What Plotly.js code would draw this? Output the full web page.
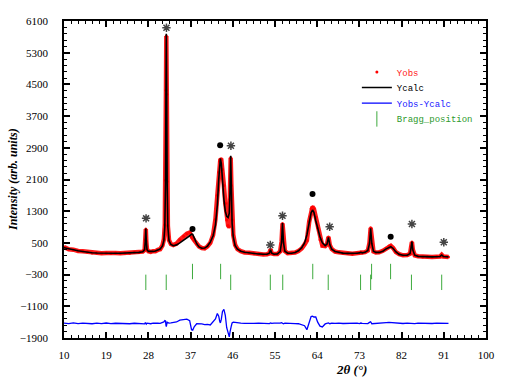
<!DOCTYPE html>
<html><head><meta charset="utf-8">
<script src="https://cdn.plot.ly/plotly-3.0.1.min.js"></script>
<style>html,body{margin:0;padding:0;background:#fff}</style>
</head><body><div id="chart" style="width:509px;height:380px"></div>
<script>
// 2-theta positions of the profile samples
const twoTheta = [10,11,12,13,14,15,16,17,18,19,20,21,22,23,24,25,26,26.8,27.2,27.35,27.45,27.55,27.7,28.0,28.5,29,29.5,30,30.5,31.0,31.3,31.5,31.65,31.75,31.82,31.9,32.0,32.15,32.4,32.8,33.3,34.0,34.7,35.5,36.2,36.8,37.2,37.45,37.8,38.3,38.8,39.4,40.0,40.6,41.2,41.8,42.3,42.7,43.0,43.2,43.35,43.55,43.8,44.1,44.4,44.7,45.0,45.25,45.4,45.55,45.7,45.85,46.1,46.5,47.0,47.7,48.5,49.5,50.5,51.5,52.5,53.3,53.8,54.05,54.3,54.8,55.5,56.1,56.4,56.6,56.8,57.1,57.7,58.5,59.3,60.0,60.7,61.3,61.8,62.3,62.7,63.0,63.3,63.7,64.1,64.6,65.1,65.7,66.1,66.4,66.7,67.1,67.8,68.6,69.5,70.5,71.5,72.5,73.0,73.3,73.6,74.2,74.8,75.15,75.4,75.65,76.0,76.5,77.2,78.0,78.7,79.3,79.7,80.2,80.8,81.5,82.3,83.2,83.8,84.05,84.2,84.4,84.8,85.5,86.5,87.5,88.5,89.5,90.2,90.55,90.9,91.5,92.0];
const yCalc = [380,350,320,300,285,262,252,245,240,238,237,237,239,242,246,252,260,275,330,560,860,560,330,285,280,285,295,315,345,425,560,900,2000,4400,5780,4300,2000,900,560,460,430,450,500,560,620,680,720,715,620,480,400,365,370,420,520,680,950,1450,2100,2500,2630,2500,2050,1600,1300,1170,1140,1250,1800,2700,1900,1000,650,430,340,290,262,245,232,222,214,212,240,330,240,215,222,280,520,1000,520,290,240,240,260,300,380,500,700,1000,1260,1330,1270,1060,850,650,500,430,470,640,450,340,285,258,242,235,232,238,248,262,250,262,310,480,870,480,290,260,260,290,350,395,405,360,270,210,190,190,230,400,530,320,190,160,150,148,148,150,158,195,158,150,148];
const yObs = [395,340,330,295,290,270,248,250,236,245,232,242,236,248,240,258,255,280,320,580,850,545,335,290,275,292,290,322,340,440,590,960,2080,4350,5720,4250,2050,930,570,470,445,480,580,670,730,760,640,620,560,470,410,370,360,410,500,700,1100,1700,2280,2560,2620,2600,2350,1950,1500,1080,940,900,1600,2650,1950,1080,700,450,345,292,258,250,228,226,210,216,235,340,236,220,218,285,530,990,510,295,238,245,255,295,360,460,560,1040,1360,1410,1360,1150,880,580,430,420,470,650,440,345,282,262,238,240,229,242,244,268,246,266,305,500,880,470,285,258,262,300,365,420,425,370,265,214,186,194,226,410,520,325,186,164,146,152,145,154,155,200,154,153,146];
const yDiff = [-1525,-1535,-1520,-1535,-1525,-1530,-1540,-1525,-1535,-1522,-1538,-1528,-1533,-1524,-1540,-1528,-1535,-1530,-1545,-1510,-1535,-1550,-1525,-1528,-1540,-1525,-1535,-1528,-1532,-1518,-1495,-1460,-1470,-1580,-1610,-1560,-1500,-1515,-1525,-1520,-1515,-1495,-1450,-1430,-1425,-1460,-1690,-1700,-1610,-1540,-1535,-1545,-1560,-1555,-1570,-1500,-1420,-1280,-1350,-1470,-1520,-1430,-1230,-1180,-1330,-1640,-1760,-1870,-1750,-1610,-1590,-1520,-1500,-1505,-1520,-1525,-1530,-1522,-1530,-1526,-1532,-1524,-1535,-1518,-1532,-1525,-1533,-1526,-1515,-1535,-1540,-1525,-1532,-1524,-1535,-1540,-1560,-1590,-1690,-1480,-1360,-1350,-1370,-1370,-1500,-1600,-1620,-1545,-1530,-1520,-1540,-1525,-1532,-1524,-1534,-1526,-1532,-1525,-1535,-1522,-1533,-1527,-1535,-1505,-1490,-1540,-1535,-1530,-1526,-1518,-1512,-1508,-1512,-1520,-1535,-1526,-1534,-1525,-1535,-1522,-1540,-1528,-1535,-1526,-1533,-1526,-1534,-1525,-1532,-1524,-1535,-1528,-1532];
// Bragg reflections (two phases)
const braggPhase1 = [37.4,43.4,63.05,75.6,79.65];
const braggPhase2 = [27.45,31.8,45.55,54.0,56.65,66.35,73.25,75.4,84.1,90.55];
const braggRow1 = -222, braggRow2 = -495;
// Peak labels
const starX = [27.5,31.85,45.6,54.0,56.6,66.66,84.2,91.0];
const starY = [1120,5930,2950,446,1186,908,976,515];
const dotX = [37.4,43.3,63.0,79.67];
const dotY = [850,2963,1733,656];

const green = '#3daa3d';

const traces = [
  {x: twoTheta, y: yObs, type:'scatter', mode:'lines', line:{color:'#ff1a1a', width:4.5}, showlegend:false, hoverinfo:'skip'},
  {x: twoTheta, y: yObs, type:'scatter', mode:'markers', name:'<span style="color:#ff2020">Yobs</span>', marker:{color:'#ff0000', size:3}, legend:'legend'},
  {x: twoTheta, y: yCalc, type:'scatter', mode:'lines', name:'<span style="color:#000">Ycalc</span>', line:{color:'#000', width:1.6}, legend:'legend2'},
  {x: twoTheta, y: yDiff, type:'scatter', mode:'lines', name:'<span style="color:#2020ff">Yobs-Ycalc</span>', line:{color:'#0000ff', width:1.3}, legend:'legend3'},
  {x: braggPhase1, y: braggPhase1.map(()=>braggRow1), type:'scatter', mode:'markers', name:'<span style="color:#2e9a2e">Bragg_position</span>', marker:{symbol:'line-ns-open', size:11, line:{color:green, width:1}, color:green}, legend:'legend4'},
  {x: braggPhase2, y: braggPhase2.map(()=>braggRow2), type:'scatter', mode:'markers', showlegend:false, marker:{symbol:'line-ns-open', size:11, line:{color:green, width:1}, color:green}},
  {x: starX, y: starY, type:'scatter', mode:'markers', showlegend:false, marker:{symbol:'asterisk-open', size:7, color:'#444', line:{color:'#444', width:1.5}}},
  {x: dotX, y: dotY, type:'scatter', mode:'markers', showlegend:false, marker:{symbol:'circle', size:6, color:'#000'}}
];

const layout = {
  width:509, height:380,
  margin:{l:64, r:23, t:21, b:42},
  paper_bgcolor:'#fff', plot_bgcolor:'#fff',
  font:{family:'Liberation Serif', size:11, color:'#000'},
  showlegend:true,
  legend:  {xanchor:'left', yanchor:'middle', x:0.694, y:0.839, bgcolor:'rgba(0,0,0,0)', font:{family:'Liberation Mono', size:9}, itemwidth:30},
  legend2: {xanchor:'left', yanchor:'middle', x:0.694, y:0.790, bgcolor:'rgba(0,0,0,0)', font:{family:'Liberation Mono', size:9}, itemwidth:30},
  legend3: {xanchor:'left', yanchor:'middle', x:0.694, y:0.741, bgcolor:'rgba(0,0,0,0)', font:{family:'Liberation Mono', size:9}, itemwidth:30},
  legend4: {xanchor:'left', yanchor:'middle', x:0.694, y:0.691, bgcolor:'rgba(0,0,0,0)', font:{family:'Liberation Mono', size:9}, itemwidth:30},
  xaxis: {range:[10,100], tickmode:'linear', tick0:10, dtick:9,
    showgrid:false, zeroline:false, showline:true, linecolor:'#000', linewidth:1.5,
    mirror:'ticks', ticks:'inside', ticklen:6, tickwidth:1.5, tickcolor:'#000',
    tickfont:{family:'Liberation Serif', size:11},
    ticklabelstandoff:6,
    minor:{dtick:1.5, tick0:10, ticks:'inside', ticklen:3, tickcolor:'#000', tickwidth:1}},
  yaxis: {range:[-1900,6100], tickmode:'linear', tick0:-1900, dtick:800,
    showgrid:false, zeroline:false, showline:true, linecolor:'#000', linewidth:1.5,
    mirror:'ticks', ticks:'inside', ticklen:6, tickwidth:1.5, tickcolor:'#000',
    tickfont:{family:'Liberation Serif', size:11},
    ticklabelstandoff:12,
    minor:{dtick:160, tick0:-1900, ticks:'inside', ticklen:3, tickcolor:'#000', tickwidth:1}},
  annotations:[
    {text:'Intensity (arb. units)', xref:'paper', yref:'paper', x:-0.122, y:0.5, textangle:-90, showarrow:false, xanchor:'center', yanchor:'middle',
     font:{family:'Liberation Serif', size:12, weight:'bold', style:'italic', color:'#000'}},
    {text:'2θ (°)', xref:'paper', yref:'paper', x:0.682, y:-0.098, showarrow:false, xanchor:'center', yanchor:'middle',
     font:{family:'Liberation Serif', size:13, weight:'bold', style:'italic', color:'#000'}}
  ]
};

Plotly.newPlot('chart', traces, layout, {displayModeBar:false});
</script>
</body></html>
